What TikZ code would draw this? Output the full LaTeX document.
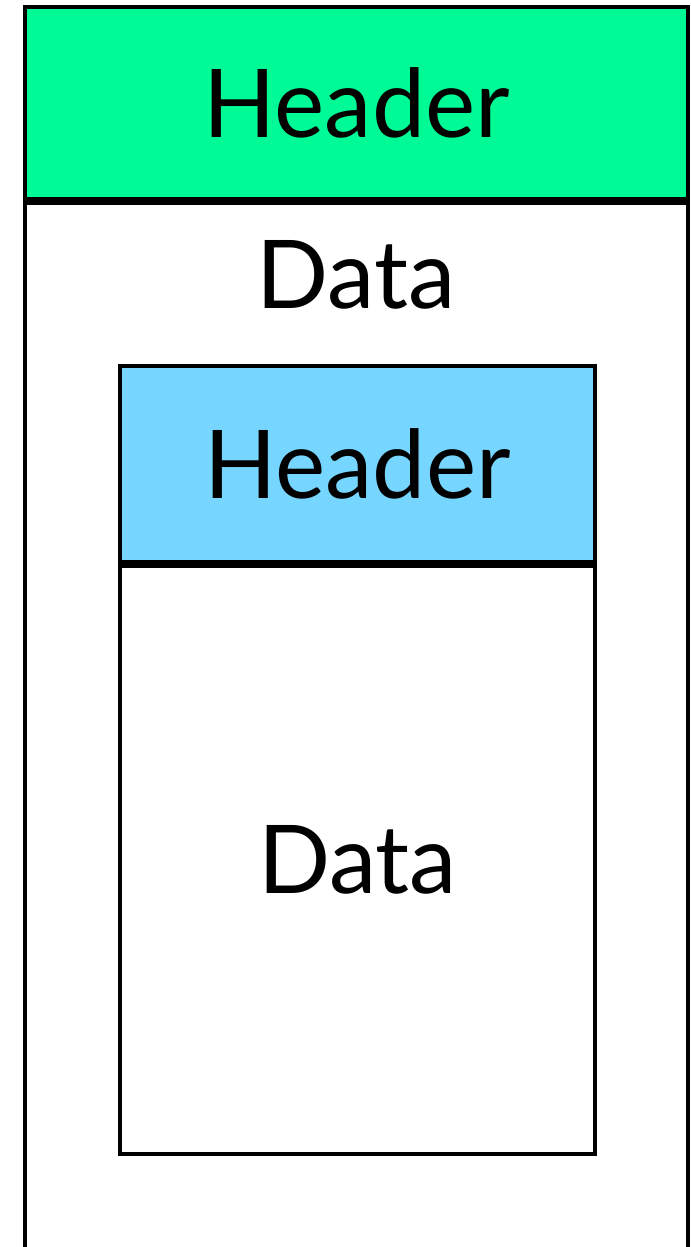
\documentclass[tikz,border=0pt]{standalone}
\usepackage{fontspec}
\setmainfont{Lato}
\usepackage{tikz}

\definecolor{hdrgreen}{HTML}{00FA96}
\definecolor{hdrblue}{HTML}{76D6FF}

\tikzset{
  box/.style={draw, line width=1.15pt, rectangle, inner sep=0pt, font=\fontsize{27}{32}\selectfont},
  lbl/.style={inner sep=0pt, font=\fontsize{27}{32}\selectfont}
}

\begin{document}
\begin{tikzpicture}[x=0.01cm, y=-0.01cm]
			\useasboundingbox (0,0) rectangle (690,1247);
			% Outer packet
			\node[box, fill=hdrgreen, minimum width=6.625cm, minimum height=1.925cm] (outerHeader) at (356.75,103) {Header};
			\node[box, anchor=north, minimum width=6.625cm, minimum height=10.8cm] (outerData) at (outerHeader.south) {};
			\node[lbl] (outerLabel) at (356,275) {Data};
			% Inner packet
			\node[box, fill=hdrblue, minimum width=4.74cm, minimum height=1.96cm] (innerHeader) at (357.5,464) {Header};
			\node[box, anchor=north, minimum width=4.74cm, minimum height=5.88cm] (innerData) at (innerHeader.south) {Data};
\end{tikzpicture}
\end{document}
